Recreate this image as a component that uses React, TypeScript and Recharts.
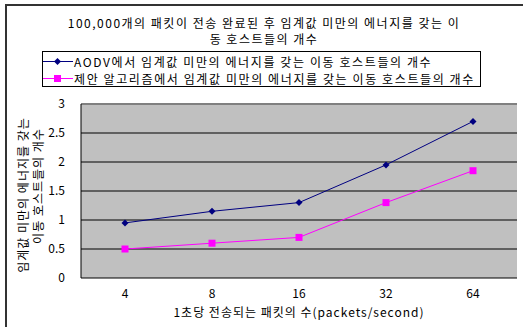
import React from "react";
import { LineChart, Line, XAxis, YAxis, CartesianGrid, ReferenceLine } from "recharts";

const categories = ["4", "8", "16", "32", "64"];
const aodvValues = [0.95, 1.15, 1.3, 1.95, 2.7];
const proposedValues = [0.5, 0.6, 0.7, 1.3, 1.85];
const yTicks = [0, 0.5, 1, 1.5, 2, 2.5, 3];
const edgeTicks = [0, 1, 2, 3, 4, 5];
const seriesNames = [
  "AODV에서 임계값 미만의 에너지를 갖는 이동 호스트들의 개수",
  "제안 알고리즘에서 임계값 미만의 에너지를 갖는 이동 호스트들의 개수",
];
const titleLines = [
  "100,000개의 패킷이 전송 완료된 후 임계값 미만의 에너지를 갖는 이",
  "동 호스트들의 개수",
];
const yLabelLines = ["임계값 미만의 에너지를 갖는", "이동 호스트들의 개수"];
const xLabel = "1초당 전송되는 패킷의 수(packets/second)";

const FONT = '"Noto Sans CJK KR", sans-serif';

const data = categories.map((c, i) => ({
  cat: c,
  aodv: aodvValues[i],
  proposed: proposedValues[i],
}));

const Diamond = (props: any) => {
  const { cx, cy } = props;
  if (cx == null || cy == null) return null;
  return <path d={`M${cx},${cy - 3.5}L${cx + 3.5},${cy}L${cx},${cy + 3.5}L${cx - 3.5},${cy}Z`} fill="#000080" />;
};

const Square = (props: any) => {
  const { cx, cy } = props;
  if (cx == null || cy == null) return null;
  return <rect x={cx - 3.5} y={cy - 3.5} width={7} height={7} fill="#ff00ff" />;
};

function LegendRow({ color, square, text }: { color: string; square: boolean; text: string }) {
  return (
    <div style={{ display: "flex", alignItems: "center", height: 17 }}>
      <svg width={30} height={17} style={{ flex: "none" }}>
        <line x1={0} y1={8.5} x2={30} y2={8.5} stroke={color} strokeWidth={1} />
        {square ? (
          <rect x={11} y={5} width={7} height={7} fill={color} />
        ) : (
          <path d="M14.5,5L18,8.5L14.5,12L11,8.5Z" fill={color} />
        )}
      </svg>
      <span style={{ marginLeft: 1, letterSpacing: 1.6, whiteSpace: "nowrap", lineHeight: "17px" }}>{text}</span>
    </div>
  );
}

export default function App() {
  return (
    <div style={{ position: "absolute", left: 0, top: 0, width: 523, height: 327, background: "#fff", fontFamily: FONT, overflow: "hidden" }}>
      <div style={{ position: "absolute", left: 5, top: 4, width: 600, height: 400, borderLeft: "2px solid #333", borderTop: "2px solid #333" }} />
      <div style={{ position: "absolute", left: 0, top: 15, width: 528, textAlign: "center", fontSize: 12, lineHeight: "16px", letterSpacing: 1.5, color: "#000" }}>
        {titleLines.map((t) => (
          <div key={t}>{t}</div>
        ))}
      </div>
      <div style={{ position: "absolute", left: 42, top: 51, width: 439, height: 36, border: "1px solid #000", fontSize: 12, color: "#000", paddingTop: 1, boxSizing: "border-box" }}>
        <LegendRow color="#000080" square={false} text={seriesNames[0]} />
        <LegendRow color="#ff00ff" square={true} text={seriesNames[1]} />
      </div>
      <svg style={{ position: "absolute", left: 0, top: 0 }} width={523} height={327}>
        <text transform="translate(28,195) rotate(-90)" textAnchor="middle" fontSize={12} fontFamily={FONT} letterSpacing={1} fill="#000">
          {yLabelLines[0]}
        </text>
        <text transform="translate(43,186) rotate(-90)" textAnchor="middle" fontSize={12} fontFamily={FONT} letterSpacing={1} fill="#000">
          {yLabelLines[1]}
        </text>
        <text x={299} y={317} textAnchor="middle" fontSize={12} fontFamily={FONT} letterSpacing={1} fill="#000">
          {xLabel}
        </text>
      </svg>
      <div style={{ position: "absolute", left: 0, top: 0 }}>
        <LineChart width={523} height={327} data={data} margin={{ top: 104, right: 6, bottom: 19, left: 0 }}>
          <CartesianGrid vertical={false} stroke="#000" fill="#c0c0c0" fillOpacity={1} />
          <XAxis
            dataKey="cat"
            height={30}
            padding={{ left: 44, right: 44 }}
            axisLine={false}
            tickLine={false}
            tickSize={0}
            tickMargin={11}
            tick={{ fontSize: 12, fill: "#000", fontFamily: FONT }}
          />
          <XAxis
            xAxisId="edge"
            type="number"
            domain={[0, 5]}
            ticks={edgeTicks}
            mirror
            height={0}
            tickSize={4}
            tickFormatter={() => ""}
            stroke="#000"
            allowDataOverflow
          />
          <YAxis
            domain={[0, 3]}
            ticks={yTicks}
            width={81}
            tickLine={false}
            tickSize={0}
            tickMargin={16}
            stroke="#000"
            tick={{ fontSize: 12, fill: "#000", fontFamily: FONT }}
          />
          <ReferenceLine y={3} stroke="#808080" strokeWidth={2} />
          <ReferenceLine xAxisId="edge" x={5} stroke="#808080" strokeWidth={2} />
          <Line dataKey="aodv" stroke="#000080" strokeWidth={1} dot={<Diamond />} isAnimationActive={false} />
          <Line dataKey="proposed" stroke="#ff00ff" strokeWidth={1} dot={<Square />} isAnimationActive={false} />
        </LineChart>
      </div>
    </div>
  );
}
